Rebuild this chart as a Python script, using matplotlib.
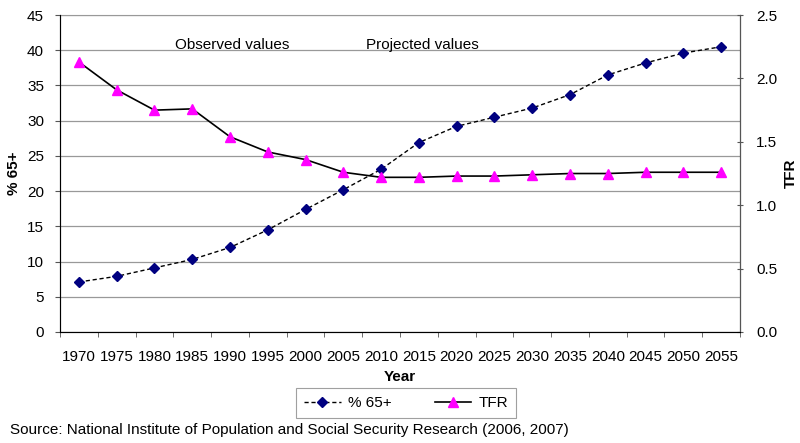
import numpy as np
import matplotlib.pyplot as plt

plt.rcParams['font.family'] = ['Liberation Sans', 'DejaVu Sans']

years = [1970, 1975, 1980, 1985, 1990, 1995, 2000, 2005, 2010, 2015,
         2020, 2025, 2030, 2035, 2040, 2045, 2050, 2055]
pct65 = [7.1, 7.9, 9.1, 10.3, 12.0, 14.5, 17.4, 20.2, 23.1, 26.9,
         29.2, 30.5, 31.8, 33.7, 36.5, 38.2, 39.6, 40.5]
tfr = [2.13, 1.91, 1.75, 1.76, 1.54, 1.42, 1.36, 1.26, 1.22, 1.22,
       1.23, 1.23, 1.24, 1.25, 1.25, 1.26, 1.26, 1.26]

fig = plt.figure(figsize=(8, 4.43), dpi=100)
ax = fig.add_axes([0.075, 0.2506, 0.85, 0.7154])
ax2 = ax.twinx()

x = np.arange(len(years))
l1, = ax.plot(x, pct65, color='black', ls='--', lw=1, dashes=(3, 2),
              marker='D', ms=5, mfc='#000080', mec='#000080', label='% 65+')
l2, = ax2.plot(x, tfr, color='black', lw=1.2,
               marker='^', ms=7, mfc='#FF00FF', mec='#FF00FF', label='TFR')

ax.set_xlim(-0.5, len(years) - 0.5)
ax.set_ylim(0, 45)
ax.set_yticks(range(0, 46, 5))
ax2.set_ylim(0, 2.5)
ax2.set_yticks(np.arange(0, 2.51, 0.5))
ax2.set_yticklabels(['%.1f' % v for v in np.arange(0, 2.51, 0.5)])

ax.set_xticks(x)
ax.set_xticklabels([str(y) for y in years])
ax.set_xticks(np.arange(-0.5, len(years), 1), minor=True)
ax.tick_params(axis='x', which='major', length=0, labelsize=11, pad=13)
ax.tick_params(axis='x', which='minor', length=3.5, direction='out', color='#555555')
ax.tick_params(axis='y', labelsize=11, length=3.5, color='#555555', pad=8)
ax2.tick_params(axis='y', labelsize=11, length=5, direction='inout', color='#555555', pad=9)

ax.yaxis.grid(True, color='#999999', lw=0.9)
ax.set_axisbelow(True)
for s in ['left', 'bottom']:
    ax.spines[s].set_color('#555555')
ax.spines['top'].set_color('#999999')
ax2.spines['right'].set_color('#555555')
ax2.spines['top'].set_visible(False)

ax.set_ylabel('% 65+', fontsize=11, fontweight='bold', labelpad=4)
ax2.set_ylabel('TFR', fontsize=11, fontweight='bold', labelpad=5)
ax.set_xlabel('Year', fontsize=11, fontweight='bold', labelpad=4)

ax.text(4.05, 40.7, 'Observed values', ha='center', va='center', fontsize=11)
ax.text(9.1, 40.7, 'Projected values', ha='center', va='center', fontsize=11)

leg = fig.legend(handles=[l1, l2], loc='center', bbox_to_anchor=(0.508, 0.09),
                 ncol=2, fontsize=11, frameon=True, fancybox=False,
                 edgecolor='#888888', handlelength=2.4, columnspacing=2.8,
                 handletextpad=0.5, borderpad=0.5, borderaxespad=0)
leg.get_frame().set_linewidth(0.8)

fig.text(0.012, 0.029, 'Source: National Institute of Population and Social Security Research (2006, 2007)',
         fontsize=11, ha='left', va='center')

fig.savefig('out.png', dpi=100)
